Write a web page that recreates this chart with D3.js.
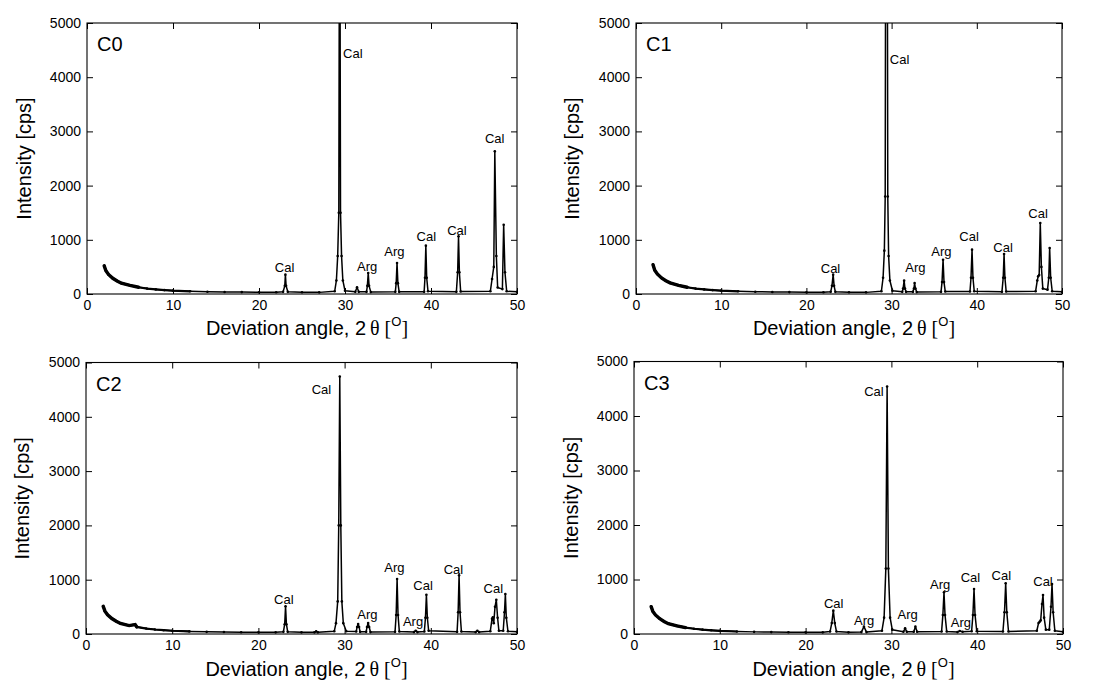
<!DOCTYPE html>
<html>
<head>
<meta charset="utf-8">
<script src="https://cdn.jsdelivr.net/npm/d3@7"></script>
<style>
  body { margin: 0; background: #fff; }
  svg { display: block; font-family: "Liberation Sans", Arial, sans-serif; }
  .tick text { font-size: 14px; fill: #000; }
  .tick line { stroke: #000; }
</style>
</head>
<body>
<svg id="chart"></svg>
<script>
// XRD scans: [2theta (deg), intensity (cps)]
const c0Scan = [
  [2.0,520],[2.2,430],[2.5,360],[3.0,290],[3.5,240],[4.0,200],[5.0,160],[6.0,125],[7.0,100],[8.0,85],[9.0,72],[10,62],
  [12,50],[14,42],[16,38],[18,35],[20,33],[22,32],[22.8,40],[23.0,150],[23.07,357],[23.15,150],[23.35,40],[25,32],[27,30],
  [28.8,50],[29.0,250],[29.15,700],[29.28,1500],[29.38,9000],[29.48,1500],[29.6,700],[29.75,250],[30.0,60],
  [31.2,40],[31.4,123],[31.6,40],[32.5,40],[32.6,150],[32.7,387],[32.8,150],[33.0,35],
  [35.85,40],[35.95,200],[36.05,572],[36.15,200],[36.3,40],[39.2,40],[39.3,300],[39.4,892],[39.5,300],[39.65,50],
  [42.95,40],[43.1,400],[43.2,1064],[43.3,400],[43.45,45],[46.9,50],[47.1,277],[47.3,500],[47.42,2632],[47.6,700],[47.75,120],
  [48.3,90],[48.45,1279],[48.6,400],[48.8,50],[50,40]
];
const c1Scan = [
  [2.0,540],[2.2,440],[2.5,370],[3.0,295],[3.5,245],[4.0,205],[5.0,160],[6.0,125],[7.0,100],[8.0,85],[9.0,72],[10,62],
  [12,50],[14,42],[16,38],[18,35],[20,33],[22,32],[22.85,40],[23.0,150],[23.14,357],[23.25,150],[23.4,40],[25,32],[27,30],
  [28.8,50],[29.0,300],[29.15,800],[29.25,1800],[29.35,12000],[29.45,12000],[29.55,1800],[29.65,700],[29.8,250],[30.1,60],
  [31.25,40],[31.35,100],[31.47,246],[31.57,100],[31.7,40],[32.5,40],[32.62,100],[32.7,203],[32.8,100],[32.95,35],
  [35.8,40],[35.92,220],[36.04,633],[36.15,220],[36.3,45],[39.2,45],[39.32,300],[39.44,818],[39.55,300],[39.7,50],
  [42.95,40],[43.1,300],[43.2,738],[43.3,300],[43.45,45],[46.9,50],[47.1,250],[47.2,326],[47.32,350],[47.45,1310],[47.58,500],[47.75,100],
  [48.3,80],[48.45,300],[48.55,849],[48.67,300],[48.85,50],[50,40]
];
const c2Scan = [
  [2.0,509],[2.2,420],[2.5,355],[3.0,285],[3.5,235],[4.0,195],[5.0,155],[5.7,175],[5.9,130],[7.0,100],[8.0,83],[9.0,70],[10,60],
  [12,48],[14,40],[16,36],[18,33],[20,31],[22,30],[22.9,40],[23.05,180],[23.15,509],[23.25,180],[23.4,40],[25,30],
  [26.5,30],[26.7,50],[26.9,30],[28.8,50],[29.0,200],[29.2,600],[29.32,2000],[29.44,4742],[29.56,2000],[29.68,600],[29.85,200],[30.2,50],
  [31.35,45],[31.45,130],[31.57,184],[31.68,130],[31.8,40],[32.5,40],[32.6,130],[32.73,202],[32.85,130],[33.0,35],
  [35.85,40],[35.98,350],[36.09,1012],[36.2,350],[36.35,45],[38.05,35],[38.25,61],[38.45,35],
  [39.25,45],[39.38,300],[39.49,724],[39.6,300],[39.75,60],[43.05,40],[43.17,400],[43.28,1080],[43.39,400],[43.55,45],
  [45.2,35],[45.4,60],[45.6,35],[46.9,50],[47.1,280],[47.2,307],[47.3,200],[47.45,500],[47.6,632],[47.75,300],[47.9,60],
  [48.4,60],[48.55,400],[48.65,736],[48.76,300],[48.95,50],[50,40]
];
const c3Scan = [
  [2.0,502],[2.2,415],[2.5,350],[3.0,280],[3.5,230],[4.0,190],[5.0,150],[6.0,118],[7.0,96],[8.0,80],[9.0,68],[10,58],
  [12,46],[14,39],[16,35],[18,32],[20,30],[22,30],[22.85,45],[23.05,200],[23.23,428],[23.4,200],[23.6,45],[25,30],
  [26.5,35],[26.8,135],[27.1,35],[28.9,60],[29.15,300],[29.35,1200],[29.5,4541],[29.65,1200],[29.85,300],[30.1,80],
  [31.4,40],[31.6,104],[31.8,40],[32.6,40],[32.8,135],[33.0,40],[35.85,45],[36.0,350],[36.13,765],[36.25,350],[36.45,45],
  [37.7,35],[37.96,55],[38.3,40],[39.35,50],[39.5,350],[39.63,826],[39.75,350],[39.95,50],
  [43.0,45],[43.18,400],[43.32,930],[43.45,400],[43.65,45],[46.95,60],[47.15,200],[47.28,226],[47.4,250],[47.55,550],[47.67,716],[47.8,300],[48.0,80],
  [48.4,80],[48.6,500],[48.72,918],[48.85,400],[49.05,60],[50,40]
];

// Peak labels: [text, 2theta (centre), intensity (baseline)]
const c0Labels = [["Cal",22.98,412],["Arg",32.58,430],["Arg",35.74,707],["Cal",39.46,972],["Cal",43.02,1089],["Cal",47.4,2786]];
const c1Labels = [["Cal",22.83,381],["Arg",32.8,400],["Arg",35.85,695],["Cal",39.09,972],["Cal",43.08,769],["Cal",47.19,1396]];
const c2Labels = [["Cal",27.32,4417],["Cal",22.95,552],["Arg",32.65,270],["Arg",35.78,1147],["Arg",37.94,153],["Cal",39.1,810],["Cal",42.62,1104],["Cal",47.26,748]];
const c3Labels = [["Cal",27.97,4370],["Cal",23.27,483],["Arg",26.83,165],["Arg",31.9,282],["Arg",35.68,832],["Arg",38.11,129],["Cal",39.22,961],["Cal",42.81,991],["Cal",47.67,881]];
// main-peak label written to the right of the line (start anchored)
const c0MainLabel = ["Cal",29.78,4348];
const c1MainLabel = ["Cal",29.79,4244];

const sampleNames = ["C0", "C1", "C2", "C3"];
const xTicks = [0, 10, 20, 30, 40, 50];
const yTicks = [0, 1000, 2000, 3000, 4000, 5000];
const xTitle = "Deviation angle, 2";
const yTitle = "Intensity [cps]";

const width = 1104, height = 683;
const svg = d3.select('#chart').attr('width', width).attr('height', height);
svg.append('rect').attr('width', width).attr('height', height).attr('fill', '#fff');

const panels = [
  {name: sampleNames[0], scan: c0Scan, labels: c0Labels, mainLabel: c0MainLabel, left: 87, top: 23, w: 430, h: 271, yTitleX: 24, xTitleY: 335},
  {name: sampleNames[1], scan: c1Scan, labels: c1Labels, mainLabel: c1MainLabel, left: 636, top: 23, w: 426, h: 271, yTitleX: 572, xTitleY: 335},
  {name: sampleNames[2], scan: c2Scan, labels: c2Labels, mainLabel: null, left: 86, top: 362.5, w: 431, h: 271.5, yTitleX: 22, xTitleY: 676},
  {name: sampleNames[3], scan: c3Scan, labels: c3Labels, mainLabel: null, left: 634, top: 361.5, w: 429, h: 272.5, yTitleX: 571, xTitleY: 676}
];

panels.forEach((p, i) => {
  const g = svg.append('g').attr('transform', `translate(${p.left},${p.top})`);

  const x = d3.scaleLinear().domain([0, 50]).range([0, p.w]);
  const y = d3.scaleLinear().domain([0, 5000]).range([p.h, 0]);

  // clip the trace to the plot frame
  g.append('defs').append('clipPath').attr('id', 'clip' + i)
    .append('rect').attr('width', p.w).attr('height', p.h);

  // axes with inward ticks on all four sides
  g.append('g').attr('transform', `translate(0,${p.h})`)
    .call(d3.axisBottom(x).tickValues(xTicks).tickSize(-6).tickPadding(6).tickFormat(d3.format('d')))
    .call(a => a.select('.domain').remove());
  g.append('g')
    .call(d3.axisLeft(y).tickValues(yTicks).tickSize(-6).tickPadding(6).tickFormat(d3.format('d')))
    .call(a => a.select('.domain').remove());
  g.append('g')
    .call(d3.axisTop(x).tickValues(xTicks).tickSize(-6).tickFormat(''))
    .call(a => a.select('.domain').remove());
  g.append('g').attr('transform', `translate(${p.w},0)`)
    .call(d3.axisRight(y).tickValues(yTicks).tickSize(-6).tickFormat(''))
    .call(a => a.select('.domain').remove());
  g.selectAll('.tick text').attr('font-family', '"Liberation Sans", Arial, sans-serif');

  g.append('rect').attr('width', p.w).attr('height', p.h)
    .attr('fill', 'none').attr('stroke', '#000').attr('stroke-width', 1.1);

  const plot = g.append('g').attr('clip-path', `url(#clip${i})`);
  const line = d3.line().x(d => x(d[0])).y(d => y(d[1]));

  // the noisy low-angle part of the scan looks like a thick band
  plot.append('path')
    .datum(p.scan.filter(d => d[0] <= 6))
    .attr('d', line)
    .attr('fill', 'none')
    .attr('stroke', '#000')
    .attr('stroke-width', 3.4)
    .attr('stroke-linecap', 'round');
  plot.append('path')
    .datum(p.scan.filter(d => d[0] <= 12))
    .attr('d', line)
    .attr('fill', 'none')
    .attr('stroke', '#000')
    .attr('stroke-width', 2.2);

  // trace
  plot.append('path')
    .datum(p.scan)
    .attr('d', line)
    .attr('fill', 'none')
    .attr('stroke', '#000')
    .attr('stroke-width', 1.5)
    .attr('stroke-linejoin', 'round');

  // measured points drawn as small markers
  plot.selectAll('.pt')
    .data(p.scan)
    .join('circle')
    .attr('class', 'pt')
    .attr('cx', d => x(d[0]))
    .attr('cy', d => y(d[1]))
    .attr('r', 1.3)
    .attr('fill', '#000');

  // peak labels
  g.selectAll('.peak-label')
    .data(p.labels)
    .join('text')
    .attr('class', 'peak-label')
    .attr('x', d => x(d[1]))
    .attr('y', d => y(d[2]))
    .attr('text-anchor', 'middle')
    .attr('font-size', '13px')
    .text(d => d[0]);

  if (p.mainLabel) {
    g.append('text')
      .attr('x', x(p.mainLabel[1]))
      .attr('y', y(p.mainLabel[2]))
      .attr('font-size', '13px')
      .text(p.mainLabel[0]);
  }

  // sample name
  g.append('text')
    .attr('x', 10)
    .attr('y', 28)
    .attr('font-size', '20px')
    .text(p.name);

  // axis titles
  svg.append('text')
    .attr('transform', `translate(${p.yTitleX},${p.top + p.h / 2}) rotate(-90)`)
    .attr('text-anchor', 'middle')
    .attr('dy', '0.35em')
    .attr('font-size', '20px')
    .text(yTitle);

  const xt = svg.append('text')
    .attr('x', p.left + p.w / 2 + 5)
    .attr('y', p.xTitleY)
    .attr('text-anchor', 'middle')
    .attr('font-size', '20px');
  xt.append('tspan').text(xTitle);
  xt.append('tspan').attr('font-family', '"Liberation Serif", "DejaVu Serif", serif').text('\u2009\u03b8 [');
  xt.append('tspan').attr('dy', -9).attr('font-size', '13px').text('O');
  xt.append('tspan').attr('dy', 9).attr('font-family', '"Liberation Serif", "DejaVu Serif", serif').text(']');
});
</script>
</body>
</html>
